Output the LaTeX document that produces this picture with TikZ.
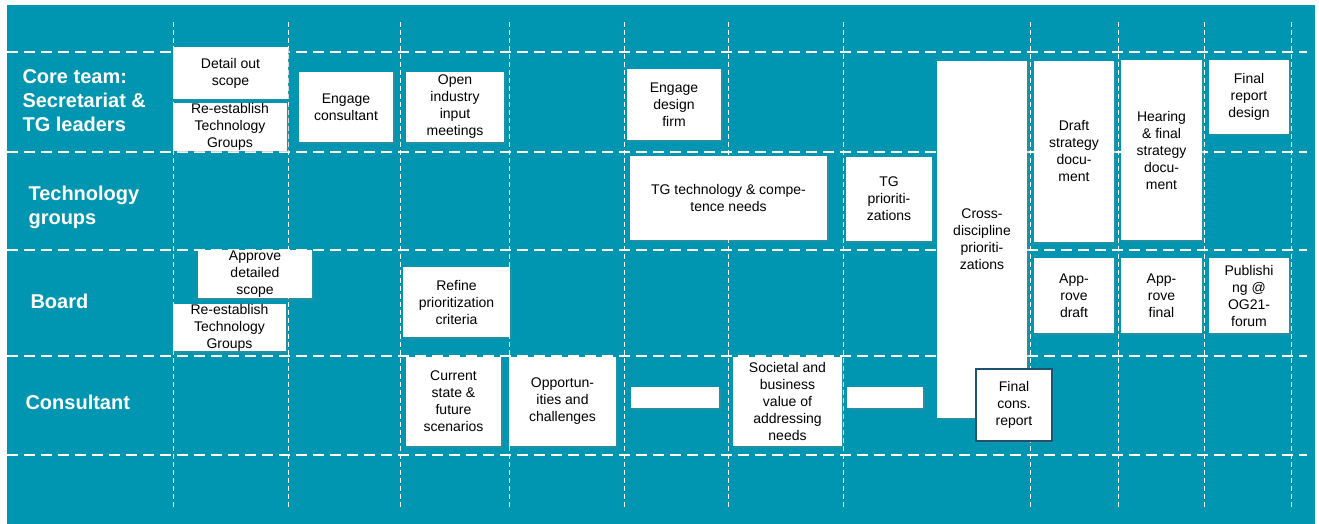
\documentclass[tikz,border=0pt]{standalone}
\usepackage{fontspec}
\setmainfont{Liberation Sans}
\usetikzlibrary{shadows}
\definecolor{fond}{HTML}{0096B1}
\definecolor{cadre}{HTML}{1B5470}

\begin{document}
\begin{tikzpicture}[
  x=1pt, y=-1pt,
  dim/.style 2 args={minimum width=#1pt, minimum height=#2pt},
  tache/.style={fill=white, align=center, inner sep=0pt, text=black,
                font=\fontsize{14}{17}\selectfont,
                drop shadow={shadow xshift=1.5pt, shadow yshift=-1.5pt, opacity=0.3}},
  vide/.style={tache, minimum height=21pt},
  couloir/.style={anchor=west, align=left, text=white,
                  font=\fontsize{20}{24}\selectfont\bfseries},
  ligne/.style={white, line width=2.6pt, dash pattern=on 11pt off 6pt},
  jalon/.style={white, line width=0.8pt, dash pattern=on 5pt off 3pt},
]
\useasboundingbox (0,0) rectangle (1319,524);
% le fond
\fill[white] (0,0) rectangle (1319,524);
\fill[fond] (7,5) rectangle (1315,524);
% la grille
\foreach \x in {173,288,400,509,624,728,843,1030,1118,1204,1291}
  \draw[jalon] (\x,22) -- (\x,508);
\foreach \y in {52,152,250,356,455}
  \draw[ligne] (7,\y) -- (1307,\y);
% les couloirs
\node[couloir] (core) at (19,101) {Core team:\\Secretariat \&\\TG leaders};
\node[couloir] (tg) at (25,207) {Technology\\groups};
\node[couloir] (board) at (27,301) {Board};
\node[couloir] (consultant) at (22,402) {Consultant};
% core team
\node[tache, dim={115}{52}] (scope) at (230.5,73) {Detail out\\scope};
\node[tache, dim={114}{46}] (regrpA) at (230,127) {Re-establish\\Technology\\Groups};
\node[tache, dim={94}{70}] (engcons) at (346,107) {Engage\\consultant};
\node[tache, dim={98}{70}] (openind) at (455,107) {Open\\industry\\input\\meetings};
\node[tache, dim={94}{71}] (design) at (674,104.5) {Engage\\design\\firm};
\node[tache, dim={90}{357}] (cross) at (982,239.5) {Cross-\\discipline\\prioriti-\\zations};
\node[tache, dim={80}{181}] (draft) at (1074,151.5) {Draft\\strategy\\docu-\\ment};
\node[tache, dim={81}{180}] (hearing) at (1161.5,150) {Hearing\\\& final\\strategy\\docu-\\ment};
\node[tache, dim={80}{74}] (repdesign) at (1249,97) {Final\\report\\design};
% technology groups
\node[tache, dim={197}{84}] (tgneeds) at (728.5,198) {TG technology \& compe-\\tence needs};
\node[tache, dim={86}{84}] (tgprio) at (889,199) {TG\\prioriti-\\zations};
% board
\node[tache, dim={114}{48}] (apscope) at (255,274) {Approve\\detailed\\scope};
\node[tache, dim={113}{47}] (regrpB) at (229.5,327.5) {Re-establish\\Technology\\Groups};
\node[tache, dim={107}{70}] (refine) at (456.5,302) {Refine\\prioritization\\criteria};
\node[tache, dim={80}{75}] (apdraft) at (1074,295.5) {App-\\rove\\draft};
\node[tache, dim={81}{75}] (apfinal) at (1161.5,295.5) {App-\\rove\\final};
\node[tache, dim={80}{75}] (publish) at (1249,295.5) {Publishi\\ng @\\OG21-\\forum};
% consultant
\node[tache, dim={95}{89}] (current) at (453.5,401.5) {Current\\state \&\\future\\scenarios};
\node[tache, dim={107}{89}] (opport) at (562.5,401.5) {Opportun-\\ities and\\challenges};
\node[vide, minimum width=88pt] (videA) at (675,397.5) {};
\node[tache, dim={109}{89}] (societal) at (787.5,401.5) {Societal and\\business\\value of\\addressing\\needs};
\node[vide, minimum width=76pt] (videB) at (885,397.5) {};
\node[tache, dim={76}{72}, draw=cadre, line width=2.5pt] (rapcons) at (1014,405) {Final\\cons.\\report};
\end{tikzpicture}
\end{document}
